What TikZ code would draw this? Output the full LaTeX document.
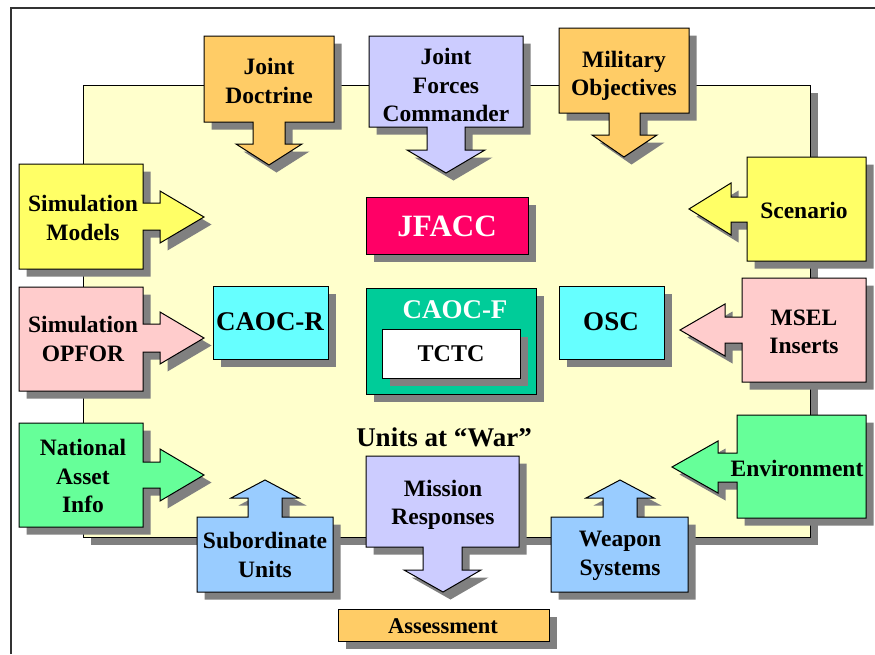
\documentclass[tikz,border=0pt]{standalone}
\usepackage{fontspec}
\setmainfont{Liberation Serif}
\usetikzlibrary{shadows}

\definecolor{bgyellow}{HTML}{FFFFCC}
\definecolor{shadowgray}{HTML}{808080}
\definecolor{orangebox}{HTML}{FFCC66}
\definecolor{lavender}{HTML}{CCCCFF}
\definecolor{lemon}{HTML}{FFFF66}
\definecolor{pinkbox}{HTML}{FFCCCC}
\definecolor{greenbox}{HTML}{66FF99}
\definecolor{skyblue}{HTML}{99CCFF}
\definecolor{cyanbox}{HTML}{66FFFF}
\definecolor{tealbox}{HTML}{00CC99}
\definecolor{crimson}{HTML}{FF0066}

\tikzset{
  panel/.style={draw=black, line width=1pt, line join=miter,
    drop shadow={shadow xshift=7.5pt, shadow yshift=-7.5pt, opacity=1, fill=shadowgray}},
  boxtext/.style={font=\bfseries\fontsize{23.5}{28.5}\selectfont, align=center, inner sep=0pt},
  bigtext/.style={font=\bfseries\fontsize{27}{32}\selectfont, align=center, inner sep=0pt},
}

\begin{document}
\begin{tikzpicture}[x=1pt, y=-1pt]
\useasboundingbox (0,0) rectangle (875,654);

% page frame
\draw[line width=1.2pt, black!80] (11,654) -- (11,8) -- (875,8);

% exercise area
\fill[panel, fill=bgyellow] (83,85) rectangle (810,537);

% ---- inputs from the top (arrows pointing down)
\fill[panel, fill=orangebox] (204,36) -- (334,36) -- (334,122) -- (285,122) -- (285,144)
  -- (302,144) -- (269,165) -- (236,144) -- (253,144) -- (253,122) -- (204,122) -- cycle;
\node[boxtext] (doctrine) at (269,81) {Joint\\Doctrine};

\fill[panel, fill=lavender] (369,36) -- (523,36) -- (523,127) -- (465,127) -- (465,150)
  -- (485,150) -- (446,173) -- (407,150) -- (427,150) -- (427,127) -- (369,127) -- cycle;
\node[boxtext] (jfc) at (446,85) {Joint\\Forces\\Commander};

\fill[panel, fill=orangebox] (559,28) -- (689,28) -- (689,113) -- (640,113) -- (640,135)
  -- (657,135) -- (624,157) -- (592,135) -- (609,135) -- (609,113) -- (559,113) -- cycle;
\node[boxtext] (objectives) at (624,76) {Military\\Objectives};

% ---- inputs from the left (arrows pointing right)
\fill[panel, fill=lemon] (19,164) -- (143,164) -- (143,203) -- (160,203) -- (160,191)
  -- (204,217) -- (160,243) -- (160,230) -- (143,230) -- (143,269) -- (19,269) -- cycle;
\node[boxtext] (simmodels) at (83,218) {Simulation\\Models};

\fill[panel, fill=pinkbox] (19,287) -- (143,287) -- (143,324) -- (160,324) -- (160,312)
  -- (204,338) -- (160,364) -- (160,352) -- (143,352) -- (143,391) -- (19,391) -- cycle;
\node[boxtext] (opfor) at (83,339) {Simulation\\OPFOR};

\fill[panel, fill=greenbox] (19,423) -- (143,423) -- (143,462) -- (160,462) -- (160,449)
  -- (204,475) -- (160,501) -- (160,488) -- (143,488) -- (143,527) -- (19,527) -- cycle;
\node[boxtext] (national) at (83,476) {National\\Asset\\Info};

% ---- inputs from the right (arrows pointing left)
\fill[panel, fill=lemon] (866,157) -- (866,261) -- (747,261) -- (747,222) -- (731,222)
  -- (731,235) -- (689,209) -- (731,183) -- (731,197) -- (747,197) -- (747,157) -- cycle;
\node[boxtext] (scenario) at (804,210) {Scenario};

\fill[panel, fill=pinkbox] (866,278) -- (866,382) -- (742,382) -- (742,343) -- (725,343)
  -- (725,356) -- (680,330) -- (725,304) -- (725,317) -- (742,317) -- (742,278) -- cycle;
\node[boxtext] (msel) at (804,332) {MSEL\\Inserts};

\fill[panel, fill=greenbox] (866,415) -- (866,518) -- (737,518) -- (737,482) -- (718,482)
  -- (718,493) -- (672,467) -- (718,441) -- (718,453) -- (737,453) -- (737,415) -- cycle;
\node[boxtext] (environment) at (797,468) {Environment};

% ---- inputs from below (arrows pointing up)
\fill[panel, fill=skyblue] (197,517) -- (248,517) -- (248,498) -- (231,498) -- (265,480)
  -- (299,498) -- (282,498) -- (282,517) -- (333,517) -- (333,592) -- (197,592) -- cycle;
\node[boxtext] (subordinate) at (265,555) {Subordinate\\Units};

\fill[panel, fill=skyblue] (551,517) -- (603,517) -- (603,498) -- (586,498) -- (620,480)
  -- (654,498) -- (637,498) -- (637,517) -- (688,517) -- (688,592) -- (551,592) -- cycle;
\node[boxtext] (weapons) at (620,556) {Weapon\\Systems};

% ---- output (arrow pointing down to the assessment)
\fill[panel, fill=lavender] (366,456) -- (519,456) -- (519,547) -- (462,547) -- (462,570)
  -- (481,570) -- (443,592) -- (404,570) -- (423,570) -- (423,547) -- (366,547) -- cycle;
\node[boxtext] (mission) at (443,505) {Mission\\Responses};

\fill[panel, fill=orangebox] (338,609) rectangle (549,641);
\node[boxtext, font=\bfseries\fontsize{22.5}{26}\selectfont] (assessment) at (443,626) {Assessment};

% ---- command and control cells
\fill[panel, fill=crimson] (366,197) rectangle (528,254);
\node[font=\bfseries\fontsize{31}{36}\selectfont, text=white, inner sep=0pt] (jfacc) at (447,226) {JFACC};

\fill[panel, fill=cyanbox] (213,286) rectangle (328,359);
\node[bigtext] (caocr) at (270,322) {CAOC-R};

\fill[panel, fill=cyanbox] (559,286) rectangle (664,359);
\node[bigtext] (osc) at (611,322) {OSC};

\fill[panel, fill=tealbox] (366,288) rectangle (536,394);
\node[bigtext, text=white] (caocf) at (455,310) {CAOC-F};

\fill[panel, fill=white] (382,329) rectangle (520,378);
\node[boxtext, font=\bfseries\fontsize{24}{28}\selectfont] (tctc) at (451,354) {TCTC};

\node[bigtext] (units) at (444,437) {Units at “War”};
\end{tikzpicture}
\end{document}
